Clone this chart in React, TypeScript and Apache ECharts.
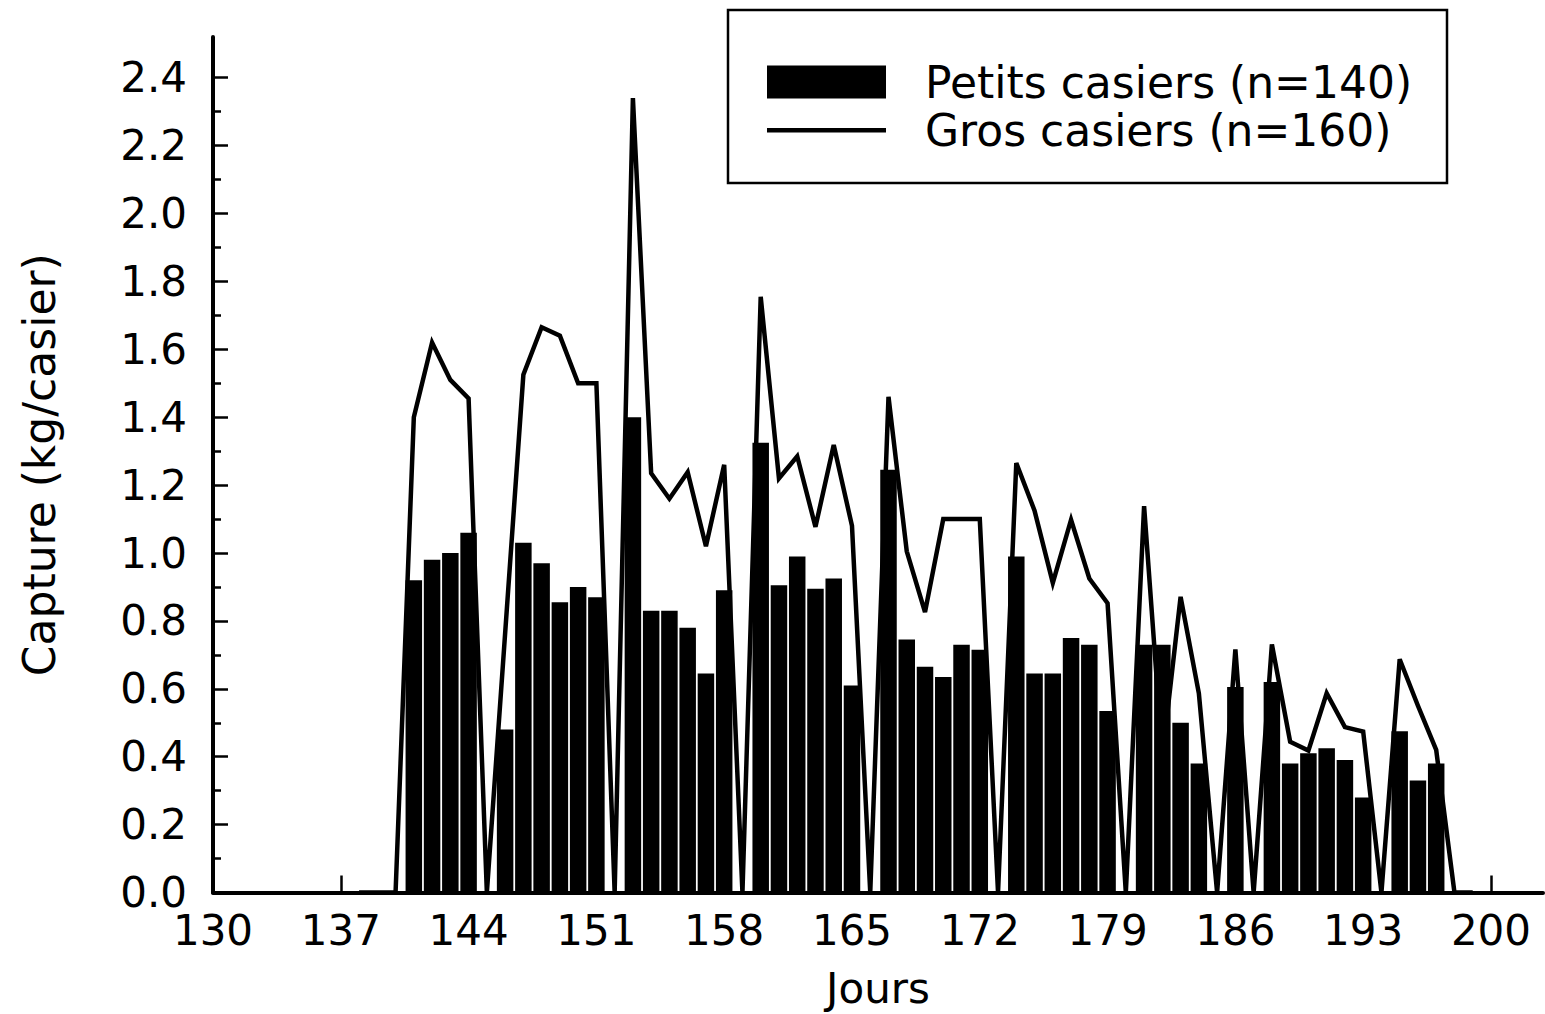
import React, { useEffect, useRef } from "react";
import * as echarts from "echarts";

// Axis tick labels
const xTickValues = [130, 137, 144, 151, 158, 165, 172, 179, 186, 193, 200];
const yTickValues = [0, 0.2, 0.4, 0.6, 0.8, 1.0, 1.2, 1.4, 1.6, 1.8, 2.0, 2.2, 2.4];
const yMinorTickValues = [0.1, 0.3, 0.5, 0.7, 0.9, 1.1, 1.3, 1.5, 1.7, 1.9, 2.1, 2.3];

// Petits casiers (bars)
const petitsDays = [
  141, 142, 143, 144, 146, 147, 148, 149, 150, 151,
  153, 154, 155, 156, 157, 158, 160, 161, 162, 163, 164, 165,
  167, 168, 169, 170, 171, 172, 174, 175, 176, 177, 178, 179,
  181, 182, 183, 184, 186, 188, 189, 190, 191, 192, 193, 195, 196, 197,
];
const petitsValues = [
  0.92, 0.98, 1.0, 1.06, 0.48, 1.03, 0.97, 0.855, 0.9, 0.87,
  1.4, 0.83, 0.83, 0.78, 0.645, 0.89, 1.325, 0.905, 0.99, 0.895, 0.925, 0.61,
  1.245, 0.745, 0.665, 0.635, 0.73, 0.715, 0.99, 0.645, 0.645, 0.75, 0.73, 0.535,
  0.73, 0.73, 0.5, 0.38, 0.605, 0.62, 0.38, 0.41, 0.425, 0.39, 0.28, 0.475, 0.33, 0.38,
];

// Gros casiers (line)
const grosDays = [
  138, 139, 140, 141, 142, 143, 144, 145, 147, 148, 149, 150, 151, 152,
  153, 154, 155, 156, 157, 158, 159, 160, 161, 162, 163, 164, 165, 166,
  167, 168, 169, 170, 171, 172, 173, 174, 175, 176, 177, 178, 179, 180,
  181, 182, 183, 184, 185, 186, 187, 188, 189, 190, 191, 192, 193, 194,
  195, 196, 197, 198, 199,
];
const grosValues = [
  0, 0, 0, 1.4, 1.62, 1.51, 1.455, 0, 1.525, 1.665, 1.64, 1.5, 1.5, 0,
  2.34, 1.235, 1.16, 1.238, 1.02, 1.26, 0, 1.755, 1.22, 1.285, 1.077, 1.318, 1.08, 0,
  1.46, 1.005, 0.826, 1.1, 1.1, 1.1, 0, 1.265, 1.125, 0.912, 1.098, 0.925, 0.852, 0,
  1.138, 0.4, 0.871, 0.587, 0, 0.716, 0, 0.731, 0.444, 0.418, 0.587, 0.487, 0.474, 0,
  0.687, 0.55, 0.42, 0, 0,
];

const petitsName = "Petits casiers (n=140)";
const grosName = "Gros casiers (n=160)";
const xTitle = "Jours";
const yTitle = "Capture (kg/casier)";

export default function App() {
  const ref = useRef<HTMLDivElement>(null);

  useEffect(() => {
    if (!ref.current) return;
    const chart = echarts.init(ref.current, null, { renderer: "svg" });
    const font = "DejaVu Sans";
    const black = "#000";

    const barData = petitsDays.map((d, i) => [d, petitsValues[i]]);
    const lineData = grosDays.map((d, i) => [d, grosValues[i]]);

    // plain horizontal line icon for the line series (tiny corner dots fix the bounding box)
    const lineIcon =
      "path://M0,0h0.01v0.01h-0.01z M0,14.5h119v4.5h-119z M0,33h0.01v-0.01h-0.01z";

    const option = {
      animation: false,
      backgroundColor: "#fff",
      textStyle: { fontFamily: font, color: black },
      grid: {
        left: 213,
        right: 2,
        top: 37,
        bottom: 121.5,
        containLabel: false,
        outerBoundsMode: "none",
      },
      legend: {
        left: 767,
        top: 60,
        orient: "vertical",
        itemWidth: 119,
        itemHeight: 33,
        itemGap: 4,
        padding: 0,
        selectedMode: false,
        textStyle: { fontFamily: font, fontSize: 44, color: black, padding: [0, 0, 0, 34] },
        data: [
          { name: petitsName, icon: "rect" },
          { name: grosName, icon: lineIcon },
        ],
      },
      graphic: [
        {
          type: "rect",
          shape: { x: 728, y: 10, width: 719, height: 173 },
          style: { fill: "none", stroke: black, lineWidth: 2.5 },
          z: 10,
        },
      ],
      xAxis: {
        type: "value",
        min: 130,
        max: 202.85,
        name: xTitle,
        nameLocation: "middle",
        nameGap: 75,
        nameTextStyle: { fontFamily: font, fontSize: 42, lineHeight: 42, color: black },
        axisLine: { show: true, lineStyle: { color: black, width: 4 } },
        axisTick: {
          show: true,
          inside: true,
          length: 17,
          customValues: xTickValues,
          lineStyle: { color: black, width: 2.5 },
        },
        axisLabel: {
          show: true,
          customValues: xTickValues,
          margin: 17,
          fontFamily: font,
          fontSize: 42,
          color: black,
        },
        splitLine: { show: false },
      },
      yAxis: [
        {
          type: "value",
          position: "left",
          min: 0,
          max: 2.52,
          name: yTitle,
          nameLocation: "middle",
          nameRotate: 90,
          nameGap: 152,
          nameTextStyle: { fontFamily: font, fontSize: 44, color: black },
          axisLine: { show: true, lineStyle: { color: black, width: 4 } },
          axisTick: {
            show: true,
            inside: true,
            length: 15,
            customValues: yTickValues,
            lineStyle: { color: black, width: 2.5 },
          },
          axisLabel: {
            show: true,
            customValues: yTickValues,
            margin: 26,
            fontFamily: font,
            fontSize: 42,
            color: black,
            formatter: (v: number) => v.toFixed(1),
          },
          splitLine: { show: false },
        },
        {
          type: "value",
          position: "left",
          min: 0,
          max: 2.52,
          axisLine: { show: false },
          axisTick: {
            show: true,
            inside: true,
            length: 8,
            customValues: yMinorTickValues,
            lineStyle: { color: black, width: 2.5 },
          },
          axisLabel: { show: false },
          splitLine: { show: false },
        },
      ],
      series: [
        {
          name: petitsName,
          type: "bar",
          xAxisIndex: 0,
          yAxisIndex: 0,
          barWidth: 16.5,
          itemStyle: { color: black },
          data: barData,
          z: 2,
        },
        {
          name: grosName,
          type: "line",
          xAxisIndex: 0,
          yAxisIndex: 0,
          symbol: "none",
          lineStyle: { color: black, width: 4.5, join: "miter" },
          itemStyle: { color: black },
          data: lineData,
          z: 3,
        },
      ],
    };

    chart.setOption(option as any);
    return () => chart.dispose();
  }, []);

  return (
    <div
      ref={ref}
      style={{ position: "absolute", left: 0, top: 0, width: 1545, height: 1014, background: "#fff" }}
    />
  );
}
